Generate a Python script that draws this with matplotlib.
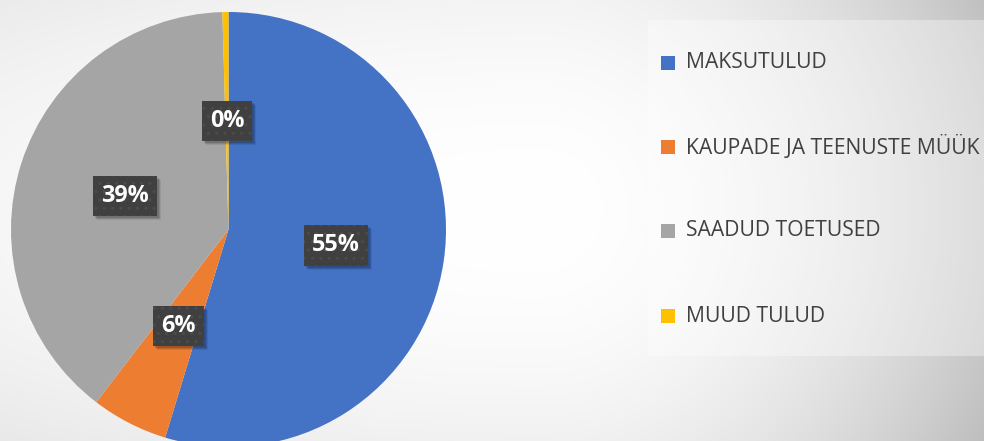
import numpy as np
import matplotlib.pyplot as plt
from matplotlib.patches import Rectangle

# andmed
kategooriad = ['MAKSUTULUD', 'KAUPADE JA TEENUSTE MÜÜK', 'SAADUD TOETUSED', 'MUUD TULUD']
osakaal = [54.7, 5.7, 39.15, 0.45]
varvid = ['#4472C4', '#ED7D31', '#A5A5A5', '#FFC000']

W, H = 984, 441
fig = plt.figure(figsize=(W / 100, H / 100), dpi=100)

# taust: hele keskelt, paremale hallim
bg = fig.add_axes([0, 0, 1, 1], zorder=0)
yy, xx = np.mgrid[0:H, 0:W]
dx = xx - 540.0
dx = np.where(dx < 0, dx / 3.0, dx)
dy = yy - 210.0
d = np.sqrt(dx ** 2 + dy ** 2) / 480
g = np.clip((255 - 60 * d ** 2) / 255, 0, 1)
bg.imshow(np.dstack([g, g, g]), extent=(0, W, H, 0), aspect='auto')
bg.set_xlim(0, W)
bg.set_ylim(H, 0)
bg.axis('off')

# sektordiagramm
cx, cy, r = 228.5, 229.5, 217.5
ax = fig.add_axes([(cx - r) / W, (H - cy - r) / H, 2 * r / W, 2 * r / H], zorder=1)
wedges, texts, autotexts = ax.pie(osakaal, colors=varvid, startangle=90, counterclock=False,
                                  autopct='%.0f%%', pctdistance=0.5,
                                  wedgeprops=dict(linewidth=0))
ax.set_xlim(-1, 1)
ax.set_ylim(-1, 1)
for t in autotexts:
    t.set(color='white', fontsize=16.8, fontweight='bold', family='Open Sans', zorder=5)
    t.set_bbox(dict(boxstyle='square,pad=0.35', fc='#404040', ec='#4c4c4c', lw=0, hatch='..'))

# pehme vari siltide taha
fig.canvas.draw()
for t in autotexts:
    bb = t.get_bbox_patch().get_window_extent()
    for k, a in [(4, 0.08), (3, 0.12), (2, 0.15)]:
        ax.add_artist(Rectangle((bb.x0 + k, bb.y0 - k), bb.width, bb.height, transform=None,
                                fc='black', alpha=a, lw=0, zorder=4))

# legend
ov = fig.add_axes([0, 0, 1, 1], zorder=2)
ov.set_xlim(0, W)
ov.set_ylim(H, 0)
ov.axis('off')
ov.add_patch(Rectangle((648, 20), 336, 336, fc='white', alpha=0.35, lw=0))
ys = [63, 147, 231, 316]
for k, c, y in zip(kategooriad, varvid, ys):
    ov.add_patch(Rectangle((661, y - 7), 14, 14, fc=c, lw=0))
    ov.text(686, y, k, fontsize=15.2, family='Open Sans', color='#404040', va='center')

fig.savefig('out.png', dpi=100)
